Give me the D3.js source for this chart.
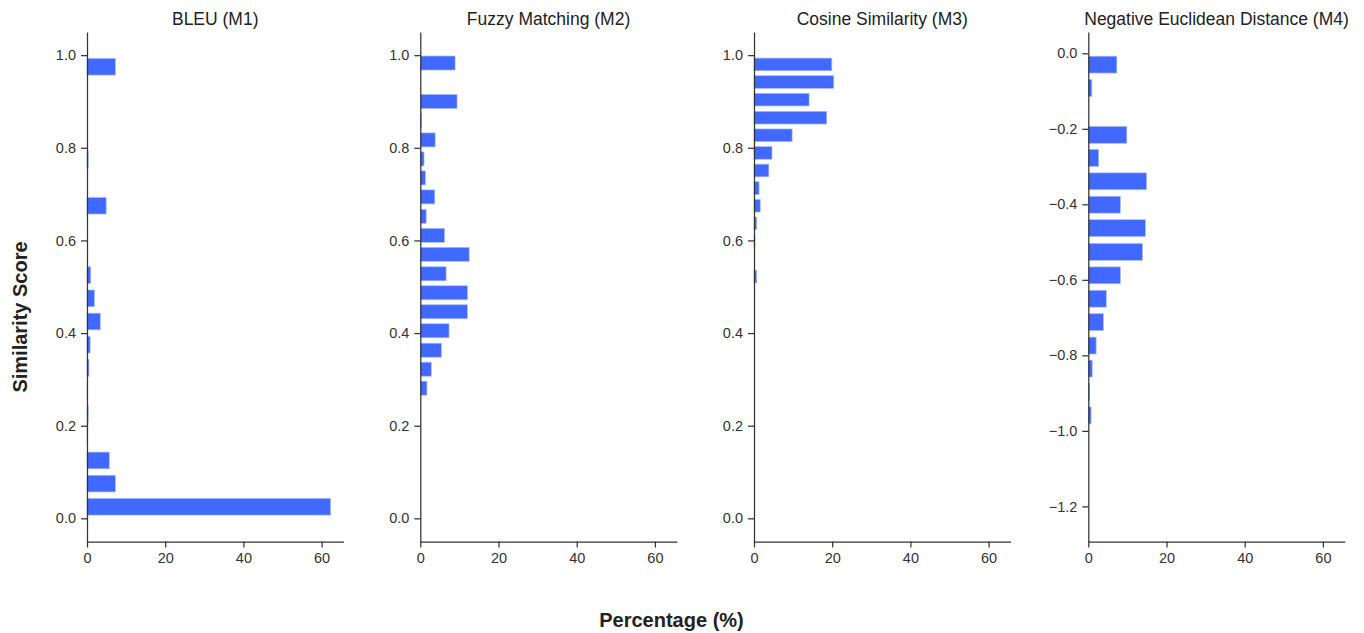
<!DOCTYPE html>
<html>
<head>
<meta charset="utf-8">
<script src="https://cdn.jsdelivr.net/npm/d3@7"></script>
<style>
  html, body { margin: 0; padding: 0; background: #fff; }
  svg { display: block; font-family: "Liberation Sans", Arial, sans-serif; }
</style>
</head>
<body>
<svg id="chart" width="1364" height="633"></svg>
<script>
// ---- Data (bin centres on the score axis, percentage in each bin) ----
const panelTitles = ["BLEU (M1)", "Fuzzy Matching (M2)", "Cosine Similarity (M3)", "Negative Euclidean Distance (M4)"];

const bleuBins = [0.025, 0.075, 0.125, 0.175, 0.225, 0.275, 0.325, 0.375, 0.425, 0.475,
                  0.525, 0.575, 0.625, 0.675, 0.725, 0.775, 0.825, 0.875, 0.925, 0.975];
const bleuPct  = [62.3, 7.25, 5.7, 0.1, 0.3, 0.1, 0.5, 0.8, 3.4, 1.9,
                  0.95, 0, 0, 4.9, 0, 0.3, 0, 0, 0, 7.25];

const fuzzyBins = [0.983, 0.941, 0.900, 0.859, 0.817, 0.776, 0.735, 0.694, 0.652,
                   0.611, 0.570, 0.528, 0.487, 0.446, 0.405, 0.363, 0.322, 0.281];
const fuzzyPct  = [8.9, 0, 9.4, 0.3, 3.8, 0.95, 1.3, 3.7, 1.5,
                   6.2, 12.5, 6.6, 12.05, 12.05, 7.35, 5.4, 2.8, 1.7];

const cosineBins = [0.980, 0.942, 0.904, 0.865, 0.827, 0.789, 0.751, 0.713, 0.675, 0.637, 0.599, 0.561, 0.522];
const cosinePct  = [19.9, 20.4, 14.1, 18.6, 9.75, 4.6, 3.8, 1.3, 1.6, 0.7, 0.25, 0, 0.7];

const euclidBins = [-0.030, -0.092, -0.154, -0.216, -0.277, -0.339, -0.401, -0.463,
                    -0.526, -0.588, -0.650, -0.712, -0.774, -0.835, -0.897, -0.959];
const euclidPct  = [7.3, 0.9, 0, 9.85, 2.65, 14.9, 8.2, 14.6,
                    13.85, 8.2, 4.6, 3.85, 2.0, 1.0, 0.35, 0.7];

const scoreTicks01 = [0.0, 0.2, 0.4, 0.6, 0.8, 1.0];
const scoreTicksNeg = [0.0, -0.2, -0.4, -0.6, -0.8, -1.0, -1.2];
const pctTicks = [0, 20, 40, 60];

const xLabel = "Percentage (%)";
const yLabel = "Similarity Score";

// ---- Layout ----
const svg = d3.select("#chart");
const panelLefts = [87, 420.3, 754, 1088.3];
const panelWidth = 256.5;
const plotTop = 32, plotBottom = 541.5;
const barColor = "#4169ff";
const axisColor = "#333";

const panels = [
  { bins: bleuBins,   pct: bleuPct,   domain: [-0.05, 1.05],    ticks: scoreTicks01 },
  { bins: fuzzyBins,  pct: fuzzyPct,  domain: [-0.05, 1.05],    ticks: scoreTicks01 },
  { bins: cosineBins, pct: cosinePct, domain: [-0.05, 1.05],    ticks: scoreTicks01 },
  { bins: euclidBins, pct: euclidPct, domain: [-1.293, 0.0564], ticks: scoreTicksNeg }
];

const x = d3.scaleLinear().domain([0, 65.6]);

panels.forEach((p, i) => {
  const left = panelLefts[i];
  const xs = x.copy().range([left, left + panelWidth]);
  const ys = d3.scaleLinear().domain(p.domain).range([plotBottom, plotTop]);
  const step = Math.abs(p.bins[0] - p.bins[1]);
  const h = Math.abs(ys(0) - ys(step)) * 0.72;

  const g = svg.append("g");

  // bars
  g.selectAll("rect")
    .data(p.bins.map((b, j) => ({ b, v: p.pct[j] })).filter(d => d.v > 0))
    .join("rect")
    .attr("x", xs(0))
    .attr("y", d => ys(d.b) - h / 2)
    .attr("width", d => xs(d.v) - xs(0))
    .attr("height", h)
    .attr("fill", barColor)
    .attr("stroke", "#a9bcff")
    .attr("stroke-width", 0.7);

  // y axis
  const yAxis = d3.axisLeft(ys).tickValues(p.ticks).tickFormat(d3.format(".1f")).tickSizeInner(6).tickSizeOuter(0).tickPadding(5);
  const ya = g.append("g").attr("transform", `translate(${left},0)`).call(yAxis);

  // x axis
  const xAxis = d3.axisBottom(xs).tickValues(pctTicks).tickFormat(d3.format("d")).tickSizeInner(6).tickSizeOuter(0).tickPadding(5);
  const xa = g.append("g").attr("transform", `translate(0,${plotBottom})`).call(xAxis);

  [ya, xa].forEach(a => {
    a.select(".domain").attr("stroke", axisColor).attr("stroke-width", 1.25);
    a.selectAll(".tick line").attr("stroke", axisColor).attr("stroke-width", 1.25);
    a.selectAll(".tick text").attr("fill", "#333").style("font-size", "14.5px")
      .style("font-family", "'Liberation Sans', Arial, sans-serif");
  });

  // title
  g.append("text")
    .attr("x", left + panelWidth / 2)
    .attr("y", 25)
    .attr("text-anchor", "middle")
    .attr("fill", "#222")
    .style("font-size", "17.5px")
    .text(panelTitles[i]);
});

// shared labels
svg.append("text")
  .attr("x", 671.5)
  .attr("y", 627)
  .attr("text-anchor", "middle")
  .attr("fill", "#222")
  .style("font-size", "20px")
  .style("font-weight", "bold")
  .text(xLabel);

svg.append("text")
  .attr("transform", "translate(26.5,317) rotate(-90)")
  .attr("text-anchor", "middle")
  .attr("fill", "#222")
  .style("font-size", "20px")
  .style("font-weight", "bold")
  .text(yLabel);
</script>
</body>
</html>
